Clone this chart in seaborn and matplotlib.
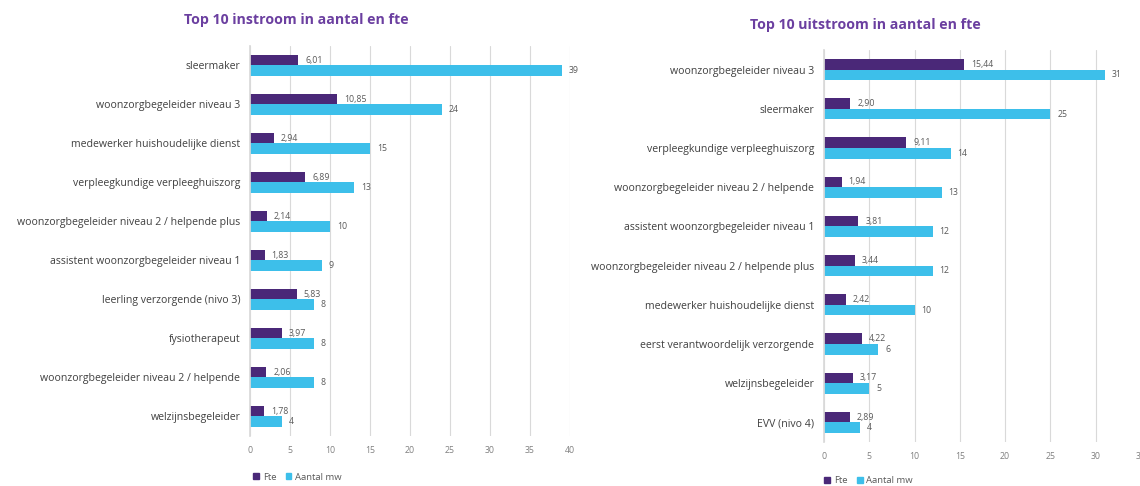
import matplotlib
matplotlib.use("Agg")
import matplotlib.pyplot as plt
from matplotlib.patches import Patch
import seaborn as sns
import pandas as pd

# ---- data ----
in_categories = ["sleermaker", "woonzorgbegeleider niveau 3", "medewerker huishoudelijke dienst",
                 "verpleegkundige verpleeghuiszorg", "woonzorgbegeleider niveau 2 / helpende plus",
                 "assistent woonzorgbegeleider niveau 1", "leerling verzorgende (nivo 3)",
                 "fysiotherapeut", "woonzorgbegeleider niveau 2 / helpende", "welzijnsbegeleider"]
in_fte = [6.01, 10.85, 2.94, 6.89, 2.14, 1.83, 5.83, 3.97, 2.06, 1.78]
in_aantal = [39, 24, 15, 13, 10, 9, 8, 8, 8, 4]

out_categories = ["woonzorgbegeleider niveau 3", "sleermaker", "verpleegkundige verpleeghuiszorg",
                  "woonzorgbegeleider niveau 2 / helpende", "assistent woonzorgbegeleider niveau 1",
                  "woonzorgbegeleider niveau 2 / helpende plus", "medewerker huishoudelijke dienst",
                  "eerst verantwoordelijk verzorgende", "welzijnsbegeleider", "EVV (nivo 4)"]
out_fte = [15.44, 2.90, 9.11, 1.94, 3.81, 3.44, 2.42, 4.22, 3.17, 2.89]
out_aantal = [31, 25, 14, 13, 12, 12, 10, 6, 5, 4]

series_names = ["Fte", "Aantal mw"]
titles = ["Top 10 instroom in aantal en fte", "Top 10 uitstroom in aantal en fte"]
x_ticks_left = [0, 5, 10, 15, 20, 25, 30, 35, 40]
x_ticks_right = [0, 5, 10, 15, 20, 25, 30, 35]

colors = {"Fte": "#4a2878", "Aantal mw": "#3dbfea"}

sns.set_theme(style="white")
plt.rcParams['font.family'] = ['Open Sans', 'DejaVu Sans']

fig = plt.figure(figsize=(11.4, 4.86), dpi=100)


def long_df(cats, fte, aantal):
    return pd.DataFrame({
        "cat": cats + cats,
        "val": list(fte) + list(aantal),
        "serie": [series_names[0]] * len(cats) + [series_names[1]] * len(cats),
    })


def draw(ax, cats, fte, aantal, ticks, xmax):
    df = long_df(cats, fte, aantal)
    sns.barplot(data=df, y="cat", x="val", hue="serie", order=cats, hue_order=series_names,
                palette=colors, orient="h", width=0.54, ax=ax, saturation=1, legend=False,
                linewidth=0)
    ax.set_xlim(0, xmax)
    ax.set_xticks(ticks)
    ax.set_xlabel("")
    ax.set_ylabel("")
    ax.grid(axis="x", color="#d9d9d9", lw=0.8)
    ax.set_axisbelow(True)
    for s in ["top", "right", "bottom"]:
        ax.spines[s].set_visible(False)
    ax.spines["left"].set_color("#d9d9d9")
    ax.tick_params(axis="x", labelsize=6.3, colors="#808080", length=0, pad=7)
    ax.tick_params(axis="y", labelsize=7.6, labelcolor="#404040", length=0, pad=7)
    c0, c1 = ax.containers[0], ax.containers[1]
    ax.bar_label(c0, labels=[f"{v:.2f}".replace(".", ",") for v in fte],
                 fontsize=6.3, color="#595959", padding=5)
    ax.bar_label(c1, labels=[f"{v:d}" for v in aantal],
                 fontsize=6.3, color="#595959", padding=5)


axL = fig.add_axes([0.2193, 0.1029, 0.2807, 0.8025])
draw(axL, in_categories, in_fte, in_aantal, x_ticks_left, 40)
axR = fig.add_axes([0.7228, 0.0905, 0.2780, 0.8066])
draw(axR, out_categories, out_fte, out_aantal, x_ticks_right, 35)

fig.text(0.260, 0.959, titles[0], ha="center", va="center", fontsize=10.2,
         fontweight="bold", color="#6b3fa0")
fig.text(0.759, 0.949, titles[1], ha="center", va="center", fontsize=10.2,
         fontweight="bold", color="#6b3fa0")

handles = [Patch(color=colors[n]) for n in series_names]
for (x, y) in [(0.261, 0.0185), (0.762, 0.0103)]:
    fig.legend(handles, series_names, loc="center", bbox_to_anchor=(x, y), ncol=2,
               frameon=False, fontsize=6.8, labelcolor="#595959", handlelength=0.6,
               handleheight=0.6, handletextpad=0.4, columnspacing=1.0,
               borderpad=0, borderaxespad=0)

fig.savefig("out.png", dpi=100)
